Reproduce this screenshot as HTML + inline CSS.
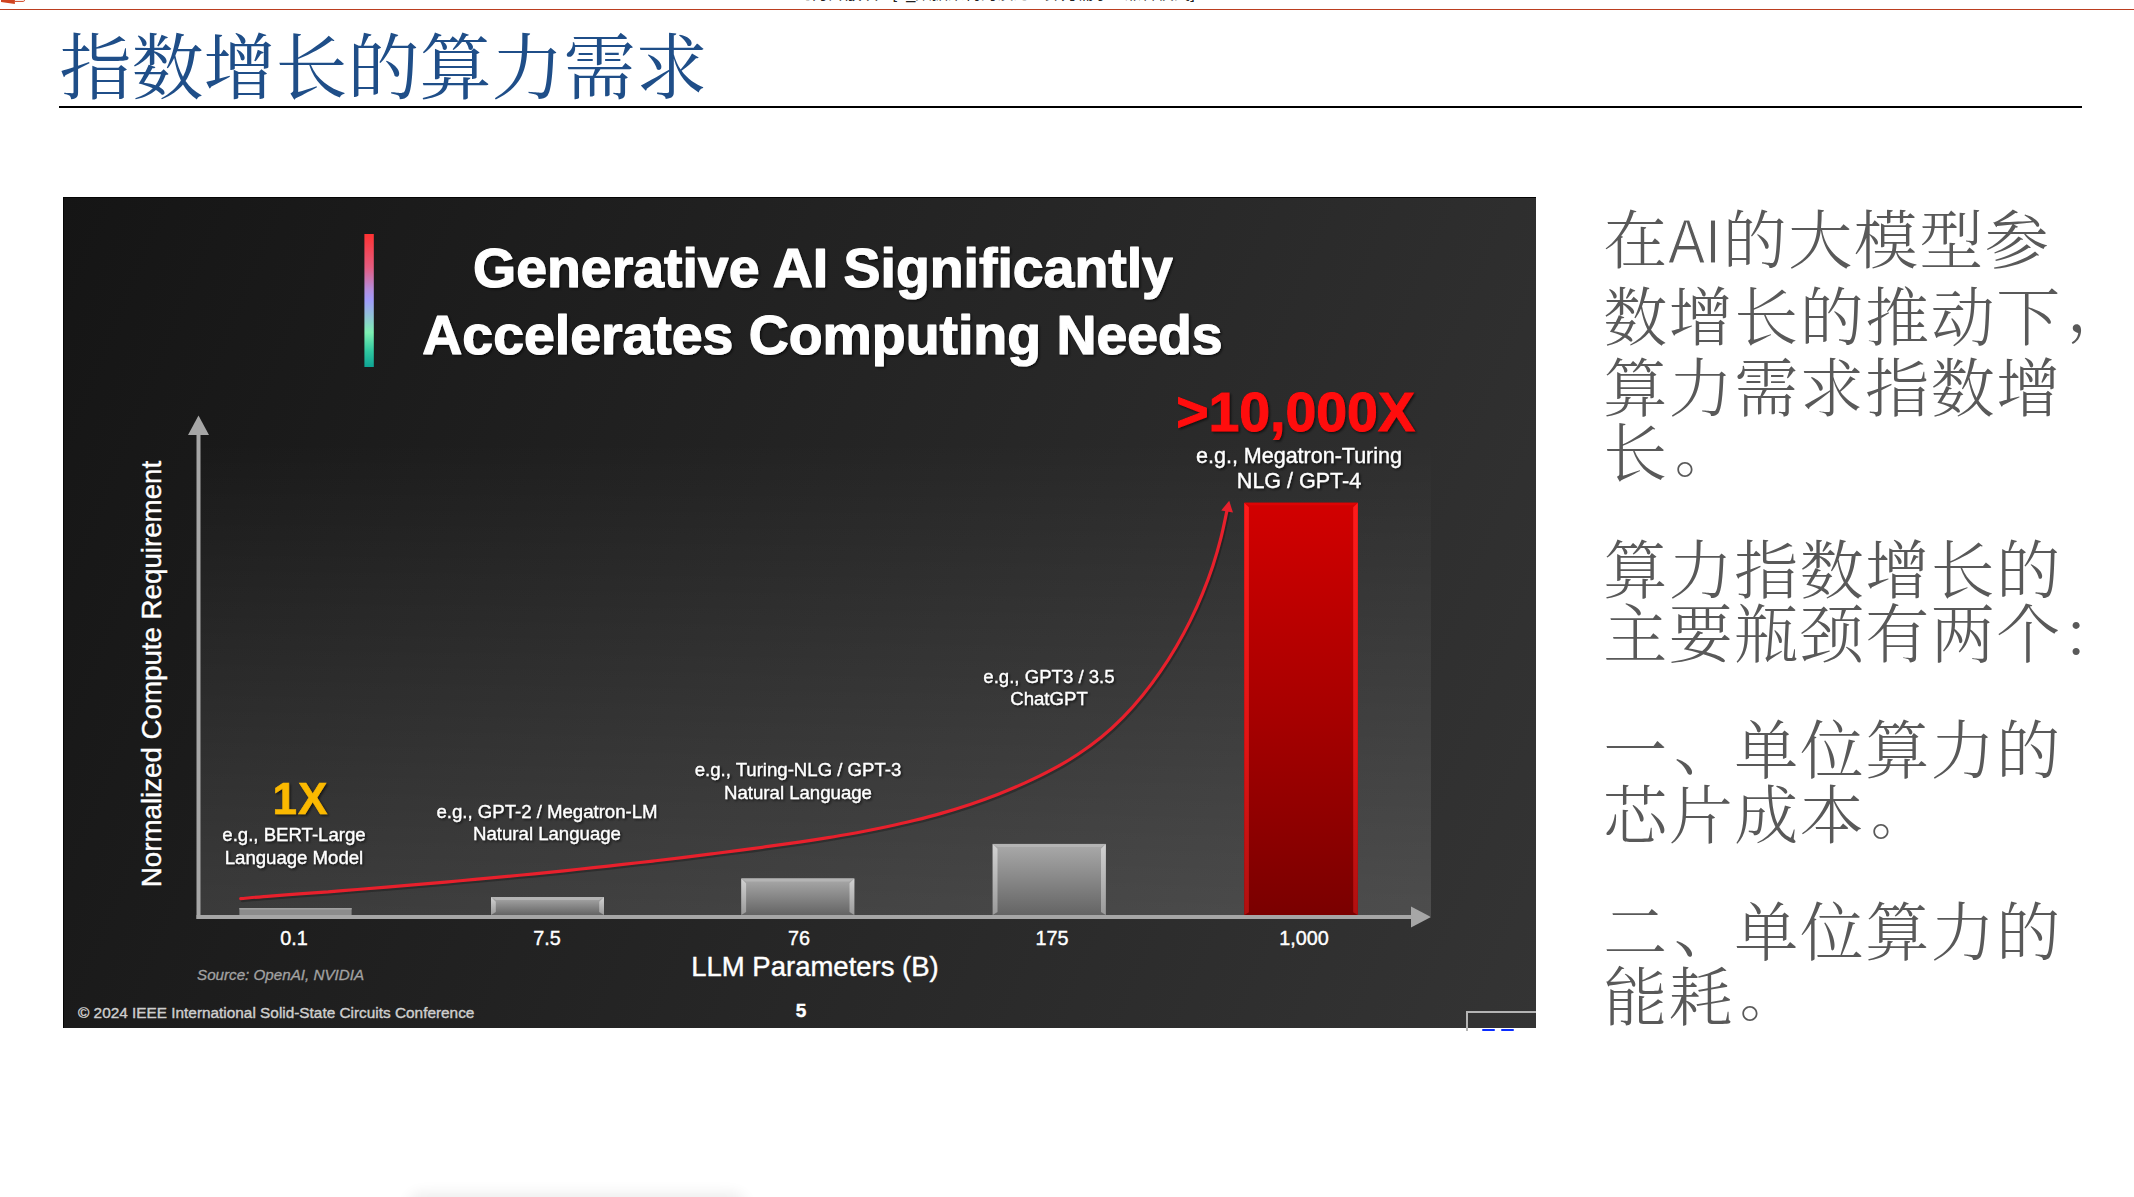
<!DOCTYPE html>
<html lang="zh-CN">
<head>
<meta charset="utf-8">
<title>指数增长的算力需求</title>
<style>
html,body{margin:0;padding:0;background:#fff;}
body{width:2134px;height:1197px;position:relative;overflow:hidden;font-family:"Liberation Sans","Noto Sans CJK SC",sans-serif;}
.abs{position:absolute;}
#topline{left:0;top:9px;width:2134px;height:1px;background:#bb3e20;box-shadow:0 0 0.6px #bb3e20;}
#wintitle{left:796px;top:-16px;width:400px;height:19px;font-size:16.4px;line-height:19px;color:#222;white-space:nowrap;overflow:hidden;font-family:"Liberation Sans","Noto Sans CJK SC",sans-serif;}
#title{left:59.5px;top:19px;font-family:"Liberation Serif","Noto Serif CJK SC",serif;font-size:72px;line-height:100px;color:#1f4e88;white-space:nowrap;font-weight:400;letter-spacing:0;}
#rule{left:59px;top:106px;width:2023px;height:2px;background:#000;}
.para{left:1603.2px;width:540px;font-family:"Liberation Serif","Noto Serif CJK SC",serif;font-size:64px;letter-spacing:1.5px;line-height:71.5px;color:#595959;white-space:nowrap;font-weight:300;}
.para .ai{font-family:"Liberation Sans",sans-serif;font-size:62.3px;letter-spacing:0;display:inline-block;width:54px;margin-left:-0.6px;margin-right:0.6px;transform:scaleX(0.894);transform-origin:0 50%;-webkit-text-stroke:1.2px #fff;}
#chart{left:63px;top:197px;width:1473px;height:831px;}
#shadow{left:414px;top:1199px;width:326px;height:20px;border-radius:8px;background:#f4f4f4;box-shadow:0 0 14px 6px rgba(0,0,0,0.075);}
.pj{display:inline-block;transform-origin:11.7px 53.85px;transform:translate(4.2px,-4px) scale(0.85);}
.pd{display:inline-block;transform:translate(4.9px,-8.8px);}
.pt{display:inline-block;transform:translate(5px,-4.4px);}
</style>
</head>
<body>
<div class="abs" id="wintitle">幻灯片放映 - [1_数据架构的演进 - 算力需求 - 兼容模式]</div>
<svg class="abs" style="left:0;top:0" width="30" height="8" viewBox="0 0 30 8"><path d="M1 0 L14.9 0 L14.9 3.9 L1 1.9 Z" fill="#d04420"/><path d="M14.9 1.4 L23.3 1.4 Q24.5 1.4 24.5 0.2 L24.5 -1" fill="none" stroke="#d04420" stroke-width="1"/></svg>
<div class="abs" id="topline"></div>
<div class="abs" id="title">指数增长的算力需求</div>
<div class="abs" id="rule"></div>

<svg class="abs" id="chart" viewBox="63 197 1473 831" font-family="'Liberation Sans', sans-serif">
<defs>
<linearGradient id="bg" gradientUnits="userSpaceOnUse" x1="63" y1="197" x2="1617.6" y2="825.9">
<stop offset="0" stop-color="#151515"/><stop offset="1" stop-color="#343434"/></linearGradient>
<linearGradient id="plot" x1="0" y1="0" x2="0" y2="1"><stop offset="0" stop-color="#fff" stop-opacity="0"/><stop offset="1" stop-color="#fff" stop-opacity="0.135"/></linearGradient>
<linearGradient id="cbar" x1="0" y1="0" x2="0" y2="1"><stop offset="0" stop-color="#ff3232"/><stop offset="0.25" stop-color="#e45c80"/><stop offset="0.42" stop-color="#b48ede"/><stop offset="0.5" stop-color="#a09cfa"/><stop offset="0.62" stop-color="#90c4d6"/><stop offset="0.74" stop-color="#7ef0b2"/><stop offset="0.88" stop-color="#30c8a0"/><stop offset="1" stop-color="#0ea494"/></linearGradient>
<linearGradient id="gbar" x1="0" y1="0" x2="0" y2="1"><stop offset="0" stop-color="#aaaaaa"/><stop offset="1" stop-color="#646464"/></linearGradient>
<linearGradient id="gside" x1="0" y1="0" x2="0" y2="1"><stop offset="0" stop-color="#d2d2d2"/><stop offset="1" stop-color="#9a9a9a"/></linearGradient>
<linearGradient id="rside" x1="0" y1="0" x2="0" y2="1"><stop offset="0" stop-color="#ff1c1c"/><stop offset="0.6" stop-color="#e01414"/><stop offset="1" stop-color="#b01010"/></linearGradient>
<linearGradient id="rbar" x1="0" y1="0" x2="0" y2="1"><stop offset="0" stop-color="#d20000"/><stop offset="0.5" stop-color="#a80000"/><stop offset="1" stop-color="#7a0000"/></linearGradient>
<filter id="ts" x="-5%" y="-20%" width="110%" height="150%"><feDropShadow dx="1.5" dy="1.5" stdDeviation="1.2" flood-color="#000" flood-opacity="0.6"/></filter>
</defs>
<rect x="63" y="197" width="1473" height="831" fill="url(#bg)"/>
<path d="M63.5 1028 L63.5 197.500 L1536 197.500" fill="none" stroke="#050505" stroke-width="1"/>
<rect x="200" y="440" width="1231" height="476" fill="url(#plot)"/>
<rect x="364.4" y="234" width="9.4" height="133" fill="url(#cbar)"/>
<g font-weight="bold" fill="#fff" stroke="#fff" stroke-width="1.2" stroke-linejoin="round" font-size="55.4" text-anchor="middle" filter="url(#ts)">
<text x="823" y="287">Generative AI Significantly</text>
<text x="822.500" y="354">Accelerates Computing Needs</text>
</g>
<!-- axes -->
<g fill="#a6a6a6">
<rect x="196.500" y="430" width="4" height="489"/>
<rect x="196.500" y="915" width="1218" height="4"/>
<path d="M198.500 415.500 L209 435 L188 435 Z"/>
<path d="M1431 917 L1411 906.500 L1411 927.500 Z"/>
</g>
<text transform="translate(161 674) rotate(-90)" text-anchor="middle" font-size="27.700" fill="#fff" stroke="#fff" stroke-width="0.4">Normalized Compute Requirement</text>
<!-- bars -->
<g>
<rect x="239.4" y="908" width="112.2" height="7" fill="#8c8c8c"/>
<rect x="239.4" y="908" width="112.2" height="1.5" fill="#a0a0a0"/>
<rect x="491" y="897" width="113.0" height="18.0" fill="url(#gbar)"/>
<path d="M491 897 L495.8 901.8 L495.8 912.1 L491 915 Z" fill="url(#gside)"/>
<path d="M604 897 L599.2 901.8 L599.2 912.1 L604 915 Z" fill="url(#gside)"/>
<path d="M491 897 L604 897 L599.2 900.0 L495.8 900.0 Z" fill="#b4b4b4"/>
<rect x="741.3" y="878.4" width="113.0" height="36.6" fill="url(#gbar)"/>
<path d="M741.3 878.4 L746.1 883.2 L746.1 912.1 L741.3 915 Z" fill="url(#gside)"/>
<path d="M854.3 878.4 L849.5 883.2 L849.5 912.1 L854.3 915 Z" fill="url(#gside)"/>
<path d="M741.3 878.4 L854.3 878.4 L849.5 881.4 L746.1 881.4 Z" fill="#b4b4b4"/>
<rect x="992.7" y="843.9" width="113.1" height="71.1" fill="url(#gbar)"/>
<path d="M992.7 843.9 L997.5 848.7 L997.5 912.1 L992.7 915 Z" fill="url(#gside)"/>
<path d="M1105.8 843.9 L1101.0 848.7 L1101.0 912.1 L1105.8 915 Z" fill="url(#gside)"/>
<path d="M992.7 843.9 L1105.8 843.9 L1101.0 846.9 L997.5 846.9 Z" fill="#b4b4b4"/>
<rect x="1244.3" y="502.7" width="113.5" height="412.3" fill="url(#rbar)"/>
<path d="M1244.3 502.7 L1248.9 507.3 L1248.9 912.2 L1244.3 915 Z" fill="url(#rside)"/>
<path d="M1357.8 502.7 L1353.2 507.3 L1353.2 912.2 L1357.8 915 Z" fill="url(#rside)"/>
<path d="M1244.3 502.7 L1357.8 502.7 L1353.2 505.2 L1248.9 505.2 Z" fill="#dc0404"/>
</g>
<!-- curve -->
<path d="M240.7 898.6 C245.6 898.2 260.5 896.8 270.3 896.1 C280.0 895.3 289.5 894.7 299.1 893.9 C308.8 893.2 318.5 892.5 328.2 891.8 C337.9 891.0 347.6 890.3 357.3 889.5 C367.1 888.7 376.9 887.9 386.6 887.1 C396.4 886.3 406.2 885.5 416.0 884.7 C425.8 883.8 435.7 883.0 445.5 882.1 C455.3 881.2 465.2 880.3 475.0 879.4 C484.9 878.5 494.8 877.6 504.6 876.7 C514.5 875.7 524.4 874.8 534.3 873.8 C544.1 872.8 554.0 871.8 563.9 870.8 C573.8 869.8 583.6 868.7 593.5 867.7 C603.4 866.6 613.2 865.5 623.1 864.4 C633.0 863.3 642.8 862.2 652.7 861.1 C662.5 859.9 672.3 858.8 682.2 857.6 C692.0 856.4 701.8 855.2 711.6 853.9 C721.4 852.7 731.2 851.4 740.9 850.1 C750.7 848.9 760.4 847.6 770.1 846.2 C779.8 844.9 789.5 843.5 799.2 842.1 C808.9 840.7 818.5 839.2 828.2 837.6 C837.8 836.1 847.4 834.4 856.9 832.7 C866.5 830.9 876.0 829.0 885.5 827.0 C895.0 825.0 904.5 822.9 913.9 820.5 C923.3 818.2 932.7 815.8 942.0 813.1 C951.4 810.4 960.7 807.5 970.0 804.4 C979.2 801.3 988.4 798.0 997.6 794.4 C1006.8 790.8 1016.0 787.0 1025.0 782.9 C1034.1 778.8 1043.1 774.5 1051.9 769.7 C1060.7 765.0 1069.3 760.0 1077.6 754.5 C1085.9 749.1 1093.9 743.2 1101.5 737.0 C1109.1 730.8 1116.3 724.1 1123.2 717.1 C1130.0 710.2 1136.5 702.8 1142.7 695.2 C1148.9 687.6 1154.8 679.7 1160.3 671.6 C1165.9 663.6 1171.2 655.2 1176.2 646.7 C1181.2 638.2 1185.9 629.5 1190.3 620.6 C1194.7 611.8 1198.8 602.8 1202.5 593.7 C1206.2 584.6 1209.7 575.3 1212.8 566.0 C1215.9 556.6 1218.6 547.2 1221.0 537.7 C1223.4 528.2 1226.3 513.8 1227.3 509.0" fill="none" stroke="#000" stroke-opacity="0.25" stroke-width="3.2" stroke-linecap="round" transform="translate(1.5 2)"/>
<path d="M240.7 898.6 C245.6 898.2 260.5 896.8 270.3 896.1 C280.0 895.3 289.5 894.7 299.1 893.9 C308.8 893.2 318.5 892.5 328.2 891.8 C337.9 891.0 347.6 890.3 357.3 889.5 C367.1 888.7 376.9 887.9 386.6 887.1 C396.4 886.3 406.2 885.5 416.0 884.7 C425.8 883.8 435.7 883.0 445.5 882.1 C455.3 881.2 465.2 880.3 475.0 879.4 C484.9 878.5 494.8 877.6 504.6 876.7 C514.5 875.7 524.4 874.8 534.3 873.8 C544.1 872.8 554.0 871.8 563.9 870.8 C573.8 869.8 583.6 868.7 593.5 867.7 C603.4 866.6 613.2 865.5 623.1 864.4 C633.0 863.3 642.8 862.2 652.7 861.1 C662.5 859.9 672.3 858.8 682.2 857.6 C692.0 856.4 701.8 855.2 711.6 853.9 C721.4 852.7 731.2 851.4 740.9 850.1 C750.7 848.9 760.4 847.6 770.1 846.2 C779.8 844.9 789.5 843.5 799.2 842.1 C808.9 840.7 818.5 839.2 828.2 837.6 C837.8 836.1 847.4 834.4 856.9 832.7 C866.5 830.9 876.0 829.0 885.5 827.0 C895.0 825.0 904.5 822.9 913.9 820.5 C923.3 818.2 932.7 815.8 942.0 813.1 C951.4 810.4 960.7 807.5 970.0 804.4 C979.2 801.3 988.4 798.0 997.6 794.4 C1006.8 790.8 1016.0 787.0 1025.0 782.9 C1034.1 778.8 1043.1 774.5 1051.9 769.7 C1060.7 765.0 1069.3 760.0 1077.6 754.5 C1085.9 749.1 1093.9 743.2 1101.5 737.0 C1109.1 730.8 1116.3 724.1 1123.2 717.1 C1130.0 710.2 1136.5 702.8 1142.7 695.2 C1148.9 687.6 1154.8 679.7 1160.3 671.6 C1165.9 663.6 1171.2 655.2 1176.2 646.7 C1181.2 638.2 1185.9 629.5 1190.3 620.6 C1194.7 611.8 1198.8 602.8 1202.5 593.7 C1206.2 584.6 1209.7 575.3 1212.8 566.0 C1215.9 556.6 1218.6 547.2 1221.0 537.7 C1223.4 528.2 1226.3 513.8 1227.3 509.0" fill="none" stroke="#e8202c" stroke-width="3.2" stroke-linecap="round"/>
<path d="M1229.2 500.8 L1233 512.6 L1221.2 510.4 Z" fill="#e8202c"/>
<!-- labels -->
<g fill="#fff" stroke="#fff" stroke-width="0.3" text-anchor="middle" font-size="18.600" filter="url(#ts)">
<text x="300.500" y="814" font-size="44" font-weight="bold" fill="#fbb900" stroke="#fbb900" stroke-width="0.6" letter-spacing="1">1X</text>
<text x="294" y="841">e.g., BERT-Large</text>
<text x="294" y="864">Language Model</text>
<text x="547" y="818">e.g., GPT-2 / Megatron-LM</text>
<text x="547" y="840">Natural Language</text>
<text x="798" y="776">e.g., Turing-NLG / GPT-3</text>
<text x="798" y="799">Natural Language</text>
<text x="1049" y="683">e.g., GPT3 / 3.5</text>
<text x="1049" y="705">ChatGPT</text>
<text x="1295.500" y="431.400" font-size="55.400" font-weight="bold" fill="#ff0a0a" stroke="#ff0a0a" stroke-width="1">&gt;10,000X</text>
<text x="1299" y="463" font-size="21.500">e.g., Megatron-Turing</text>
<text x="1299" y="488" font-size="21.500">NLG / GPT-4</text>
</g>
<g fill="#fff" stroke="#fff" stroke-width="0.4" text-anchor="middle" font-size="19.800">
<text x="294" y="945">0.1</text>
<text x="547" y="945">7.5</text>
<text x="799" y="945">76</text>
<text x="1052" y="945">175</text>
<text x="1304" y="945">1,000</text>
<text x="815" y="976" font-size="27.500">LLM Parameters (B)</text>
<text x="801" y="1017" font-size="19" font-weight="bold">5</text>
</g>
<text x="197" y="980" font-size="15.200" font-style="italic" fill="#a2a2a2" stroke="#a2a2a2" stroke-width="0.3">Source: OpenAI, NVIDIA</text>
<text x="78" y="1018" font-size="15.360" fill="#cecece" stroke="#cecece" stroke-width="0.4">© 2024 IEEE International Solid-State Circuits Conference</text>
<path d="M1467 1028 L1467 1012 L1536 1012" fill="none" stroke="#b4b4b4" stroke-width="2"/>
</svg>
<div class="abs" style="left:1466px;top:1028px;width:2px;height:3px;background:#b4b4b4"></div>
<div class="abs" style="left:1482px;top:1029px;width:13px;height:2px;background:#0a2cff;border-radius:1px"></div>
<div class="abs" style="left:1501px;top:1029px;width:13px;height:2px;background:#0a2cff;border-radius:1px"></div>

<div class="abs para" style="top:206.1px">在<span class="ai">AI</span>的大模型参</div>
<div class="abs para" style="top:283px">数增长的推动下<span class="pd">，</span></div>
<div class="abs para" style="top:354.3px">算力需求指数增</div>
<div class="abs para" style="top:419.15px">长<span class="pj">。</span></div>
<div class="abs para" style="top:535.5px">算力指数增长的</div>
<div class="abs para" style="top:600.05px">主要瓶颈有两个：</div>
<div class="abs para" style="top:715.5px">一<span class="pt">、</span>单位算力的</div>
<div class="abs para" style="top:780.75px">芯片成本<span class="pj">。</span></div>
<div class="abs para" style="top:898px">二<span class="pt">、</span>单位算力的</div>
<div class="abs para" style="top:963px">能耗<span class="pj">。</span></div>
<div class="abs" id="shadow"></div>
</body>
</html>
